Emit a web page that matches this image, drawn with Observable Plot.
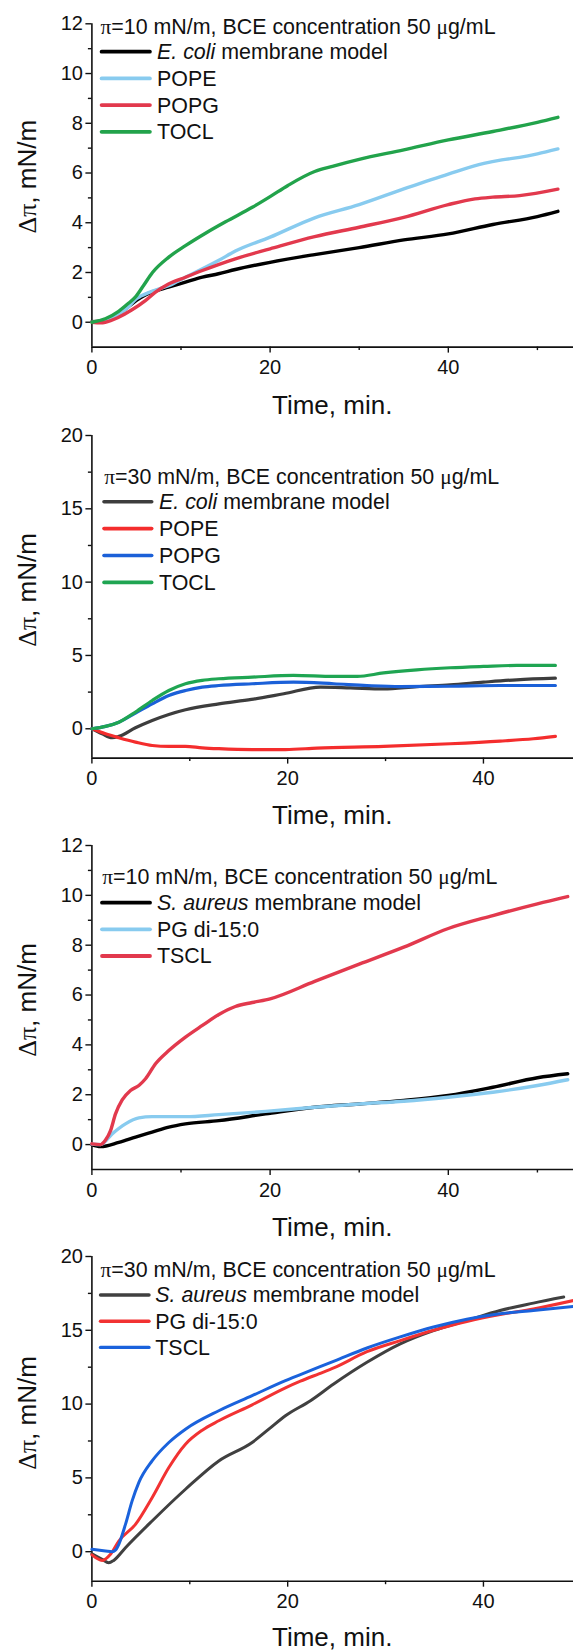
<!DOCTYPE html>
<html><head><meta charset="utf-8">
<script src="https://cdn.jsdelivr.net/npm/d3@7"></script>
<script src="https://cdn.jsdelivr.net/npm/@observablehq/plot@0.6"></script>
<style>
body{margin:0;background:#fff;}
#chart{width:573px;}
#chart svg{display:block;overflow:visible;}
</style></head><body><div id="chart"></div>
<script>
// ---------- DATA (time in min, Δπ in mN/m) ----------
// Panel 1: π=10 mN/m, E. coli set
const p1_ecoli = [[0,0.02],[1,0.05],[2,0.15],[3,0.33],[4,0.6],[5,0.88],[6,1.1],[7,1.25],[8.6,1.41],[10.5,1.61],[12.4,1.81],[14.2,1.95],[16.1,2.12],[20,2.41],[25,2.72],[30,3.0],[35,3.31],[40,3.55],[45,3.93],[50,4.25],[52.3,4.46]];
const p1_pope = [[0,0],[1,0.03],[2,0.12],[3,0.32],[4,0.58],[5,0.95],[5.5,1.05],[6.8,1.25],[8.6,1.47],[10.5,1.81],[12.4,2.15],[14.2,2.48],[16.1,2.86],[20,3.42],[25,4.2],[30,4.73],[35,5.36],[40,5.96],[44,6.39],[46,6.53],[48,6.63],[50,6.77],[52.3,6.97]];
const p1_popg = [[0,0],[1,-0.02],[1.5,0.0],[3,0.2],[4.5,0.5],[6,0.87],[7.1,1.2],[8.6,1.54],[10.5,1.81],[12.4,2.08],[14.2,2.32],[16.1,2.55],[20,2.95],[25,3.44],[30,3.82],[35,4.22],[40,4.73],[43,4.96],[45,5.03],[48,5.09],[52.3,5.35]];
const p1_tocl = [[0,0],[1.5,0.14],[3,0.44],[4.1,0.76],[4.9,1.02],[5.8,1.48],[6.8,2.0],[8.6,2.61],[10.5,3.08],[12.75,3.58],[15,4.04],[18,4.62],[20,5.05],[22,5.5],[25,6.06],[27,6.27],[30,6.55],[35,6.93],[40,7.33],[45,7.67],[50,8.04],[52.3,8.24]];

// Panel 2: π=30 mN/m, E. coli set
const p2_ecoli = [[0,0],[1.05,-0.34],[2.07,-0.61],[2.75,-0.52],[4.45,0.07],[6.16,0.57],[7.86,0.98],[9.56,1.3],[12.97,1.7],[16.3,2.0],[19.6,2.39],[23.35,2.84],[26.4,2.79],[29.8,2.72],[33.2,2.88],[36.6,3.0],[40,3.18],[43.4,3.34],[47.35,3.45]];
const p2_pope = [[0,0],[1.39,-0.34],[2.75,-0.61],[4.45,-0.91],[6.16,-1.14],[7.86,-1.2],[9.56,-1.2],[11.27,-1.3],[12.97,-1.36],[16.37,-1.42],[19.78,-1.42],[23,-1.32],[29.8,-1.2],[36.6,-1.02],[41.7,-0.84],[45.1,-0.68],[47.35,-0.52]];
const p2_popg = [[0,0],[1.39,0.16],[2.75,0.45],[4.45,1.07],[6.16,1.7],[7.86,2.27],[9.56,2.61],[11.27,2.84],[12.97,2.95],[16.37,3.07],[20.6,3.18],[24.7,3.07],[28.1,2.95],[31.5,2.88],[36.6,2.9],[41.7,2.95],[47.35,2.95]];
const p2_tocl = [[0,0],[1.39,0.16],[2.75,0.45],[4.45,1.14],[6.16,1.93],[7.86,2.61],[9.56,3.07],[11.27,3.3],[12.97,3.41],[16.37,3.52],[20.6,3.64],[24.7,3.57],[27.1,3.57],[29.8,3.81],[33.2,4.02],[36.6,4.16],[40,4.25],[43.4,4.32],[47.35,4.32]];

// Panel 3: π=10 mN/m, S. aureus set
const p3_saureus = [[0,0],[0.97,-0.08],[3.02,0.09],[4.9,0.3],[6.76,0.5],[8.63,0.7],[10.5,0.83],[14.25,0.96],[19.5,1.23],[25,1.5],[30,1.63],[35,1.77],[40,1.97],[45,2.3],[50,2.68],[53.4,2.84]];
const p3_pg = [[0,0.02],[0.97,0],[2.27,0.43],[3.77,0.83],[5.27,1.07],[6.76,1.12],[10.5,1.12],[14.25,1.2],[19.5,1.33],[25,1.5],[30,1.63],[35,1.74],[40,1.9],[45,2.1],[50,2.37],[53.4,2.6]];
const p3_tscl = [[0,0.03],[0.97,0],[1.53,0.18],[2.09,0.56],[2.65,1.23],[3.4,1.79],[4.33,2.17],[5.27,2.37],[6.02,2.64],[7.14,3.24],[8.63,3.77],[10.5,4.31],[12.4,4.78],[14.25,5.22],[16.1,5.54],[18,5.7],[20,5.85],[25,6.55],[30,7.24],[35,7.92],[40,8.67],[45,9.19],[50,9.66],[53.4,9.95]];

// Panel 4: π=30 mN/m, S. aureus set
const p4_saureus = [[0,-0.14],[1.05,-0.52],[1.72,-0.75],[2.23,-0.59],[3.43,0.27],[6.15,2.08],[9.56,4.23],[12.96,6.15],[16.37,7.4],[18.07,8.3],[19.77,9.21],[22.33,10.23],[24.7,11.36],[28.1,12.83],[31.5,14.08],[34.9,14.98],[38.3,15.66],[41.7,16.34],[45.1,16.84],[48.2,17.25]];
const p4_pg = [[0,-0.22],[1.05,-0.59],[1.9,-0.18],[2.75,0.72],[4.45,1.85],[6.15,3.66],[7.86,5.7],[9.56,7.28],[11.27,8.23],[12.96,8.87],[16.37,9.95],[19.77,11.1],[21.3,11.55],[23.18,12.05],[24.7,12.45],[28.1,13.55],[31.5,14.3],[34.9,15.0],[38.3,15.6],[41.7,16.07],[45.1,16.45],[49.2,17.02]];
const p4_tscl = [[0,0.16],[1.39,0.05],[2.07,0.0],[2.4,0.1],[2.75,0.5],[3.43,1.85],[4.11,3.44],[4.79,4.68],[6.15,6.15],[7.86,7.4],[9.56,8.3],[12.96,9.55],[16.37,10.57],[19.77,11.59],[21.3,12.0],[23.18,12.5],[24.88,12.95],[28.1,13.8],[31.5,14.55],[34.9,15.22],[38.3,15.75],[41.7,16.12],[45.1,16.34],[49.2,16.61]];

// Tick values
const yMajorLow = [0, 2, 4, 6, 8, 10, 12];
const yMinorLow = [1, 3, 5, 7, 9, 11];
const yMajorHigh = [0, 5, 10, 15, 20];
const yMinorHigh = [2.5, 7.5, 12.5, 17.5];
const xMajor = [0, 20, 40];
const xMinorLong = [10, 30, 50];
const xMinorShort = [10, 30];

// Text
const xTitle = "Time, min.";
const yTitle = [["Δπ", "serif"], [", mN/m", ""]];
const cond10 = [["π", "serif"], ["=10 mN/m, BCE concentration 50 ", ""], ["μ", "serif"], ["g/mL", ""]];
const cond30 = [["π", "serif"], ["=30 mN/m, BCE concentration 50 ", ""], ["μ", "serif"], ["g/mL", ""]];
const ecoliName = [["E. coli", "italic"], [" membrane model", ""]];
const saureusName = [["S. aureus", "italic"], [" membrane model", ""]];

// ---------- RENDER ----------
const FONT = '"Liberation Sans", Arial, Helvetica, sans-serif';
const SERIF = '"Liberation Serif", "DejaVu Serif", serif';
const LEGEND_FS = 21.4;

const panels = [
  { height: 420, mt: 23.3, mb: 73.4, xMax: 54.05, yDom: [-1, 12], yMaj: yMajorLow, yMin: yMinorLow, xMin: xMinorLong,
    sw: 3.4, cond: cond10, titleY: 26.7, titleDx: 9.1, lineX: [10.2, 58.5], textDx: 65.6, row0: 51.7, rowGap: 26.7,
    yLabelY: 176.7, xLabelY: 405,
    series: [
      {label: ecoliName, color: "#000000", data: p1_ecoli},
      {label: [["POPE", ""]], color: "#88cbef", data: p1_pope},
      {label: [["POPG", ""]], color: "#e2394d", data: p1_popg},
      {label: [["TOCL", ""]], color: "#22a34b", data: p1_tocl}
    ]},
  { height: 410, mt: 15, mb: 72.4, xMax: 49.2, yDom: [-2, 20], yMaj: yMajorHigh, yMin: yMinorHigh, xMin: xMinorShort,
    sw: 3.2, cond: cond30, titleY: 56.7, titleDx: 12.8, lineX: [12.6, 60.3], textDx: 67.6, row0: 81.7, rowGap: 26.9,
    yLabelY: 170, xLabelY: 395,
    series: [
      {label: ecoliName, color: "#3d3d3d", data: p2_ecoli},
      {label: [["POPE", ""]], color: "#f42d2d", data: p2_pope},
      {label: [["POPG", ""]], color: "#1b60d8", data: p2_popg},
      {label: [["TOCL", ""]], color: "#1fa552", data: p2_tocl}
    ]},
  { height: 405, mt: 15, mb: 66, xMax: 54.05, yDom: [-1, 12], yMaj: yMajorLow, yMin: yMinorLow, xMin: xMinorLong,
    sw: 3.4, cond: cond10, titleY: 46.7, titleDx: 10.9, lineX: [10.6, 58.6], textDx: 65.6, row0: 72.7, rowGap: 26.65,
    yLabelY: 170, xLabelY: 396.7,
    series: [
      {label: saureusName, color: "#000000", data: p3_saureus},
      {label: [["PG di-15:0", ""]], color: "#88cbef", data: p3_pg},
      {label: [["TSCL", ""]], color: "#e2394d", data: p3_tscl}
    ]},
  { height: 416, mt: 21, mb: 70.3, xMax: 49.2, yDom: [-2, 20], yMaj: yMajorHigh, yMin: yMinorHigh, xMin: xMinorShort,
    sw: 3.0, cond: cond30, titleY: 35, titleDx: 9.1, lineX: [9.1, 57.6], textDx: 63.9, row0: 60, rowGap: 26.2,
    yLabelY: 178, xLabelY: 401.7,
    series: [
      {label: saureusName, color: "#404040", data: p4_saureus},
      {label: [["PG di-15:0", ""]], color: "#f23232", data: p4_pg},
      {label: [["TSCL", ""]], color: "#1a62dc", data: p4_tscl}
    ]}
];

function addSegments(textSel, segs) {
  for (const [t, kind] of segs) {
    const ts = textSel.append("tspan").text(t);
    if (kind === "serif") ts.attr("font-family", SERIF);
    if (kind === "italic") ts.attr("font-style", "italic");
  }
}

function annotations(p) {
  return (index, scales, values, dims) => {
    const g = d3.create("svg:g").attr("font-family", FONT).attr("fill", "#111").attr("text-anchor", "start");
    const ml = dims.marginLeft;
    // legend title
    const tt = g.append("text").attr("x", ml + p.titleDx).attr("y", p.titleY).attr("dy", "0.35em").attr("font-size", LEGEND_FS);
    addSegments(tt, p.cond);
    // legend entries
    p.series.forEach((s, i) => {
      const y = p.row0 + i * p.rowGap;
      g.append("line").attr("x1", ml + p.lineX[0]).attr("x2", ml + p.lineX[1]).attr("y1", y).attr("y2", y)
        .attr("stroke", s.color).attr("stroke-width", p.sw + 0.4).attr("stroke-linecap", "round");
      const t = g.append("text").attr("x", ml + p.textDx).attr("y", y).attr("dy", "0.35em").attr("font-size", LEGEND_FS);
      addSegments(t, s.label);
    });
    // axis titles
    const cx = (ml + dims.width - dims.marginRight) / 2;
    g.append("text").attr("x", cx).attr("y", p.xLabelY).attr("dy", "0.35em").attr("text-anchor", "middle")
      .attr("font-size", 26).text(xTitle);
    const yl = g.append("text").attr("transform", `translate(27,${p.yLabelY}) rotate(-90)`).attr("dy", "0.35em")
      .attr("text-anchor", "middle").attr("font-size", 26);
    addSegments(yl, yTitle);
    return g.node();
  };
}

const chart = document.getElementById("chart");
for (const p of panels) {
  const marks = [
    Plot.ruleX([0], {stroke: "#111", strokeWidth: 1.6}),
    Plot.ruleY([p.yDom[0]], {stroke: "#111", strokeWidth: 1.6}),
    Plot.axisY(p.yMaj, {tickSize: 6, tickPadding: 3, fontSize: 20, stroke: "#111", strokeWidth: 1.4, fill: "#111", label: null}),
    Plot.axisY(p.yMin, {tickSize: 3.5, tickFormat: () => "", stroke: "#111", strokeWidth: 1.4, label: null}),
    Plot.axisX(xMajor, {tickSize: 6, tickPadding: 7, fontSize: 20, stroke: "#111", strokeWidth: 1.4, fill: "#111", label: null}),
    Plot.axisX(p.xMin, {tickSize: 3.5, tickFormat: () => "", stroke: "#111", strokeWidth: 1.4, label: null}),
    ...p.series.map(s => Plot.line(s.data, {x: d => d[0], y: d => d[1], stroke: s.color, strokeWidth: p.sw, curve: "monotone-x"})),
    annotations(p)
  ];
  const svg = Plot.plot({
    width: 573, height: p.height,
    marginLeft: 91.4, marginRight: 0, marginTop: p.mt, marginBottom: p.mb,
    x: {domain: [0, p.xMax]},
    y: {domain: p.yDom},
    style: {fontFamily: FONT, fontSize: "20px", color: "#111", background: "#fff", overflow: "visible"},
    marks
  });
  chart.appendChild(svg);
}
</script>
</body></html>
